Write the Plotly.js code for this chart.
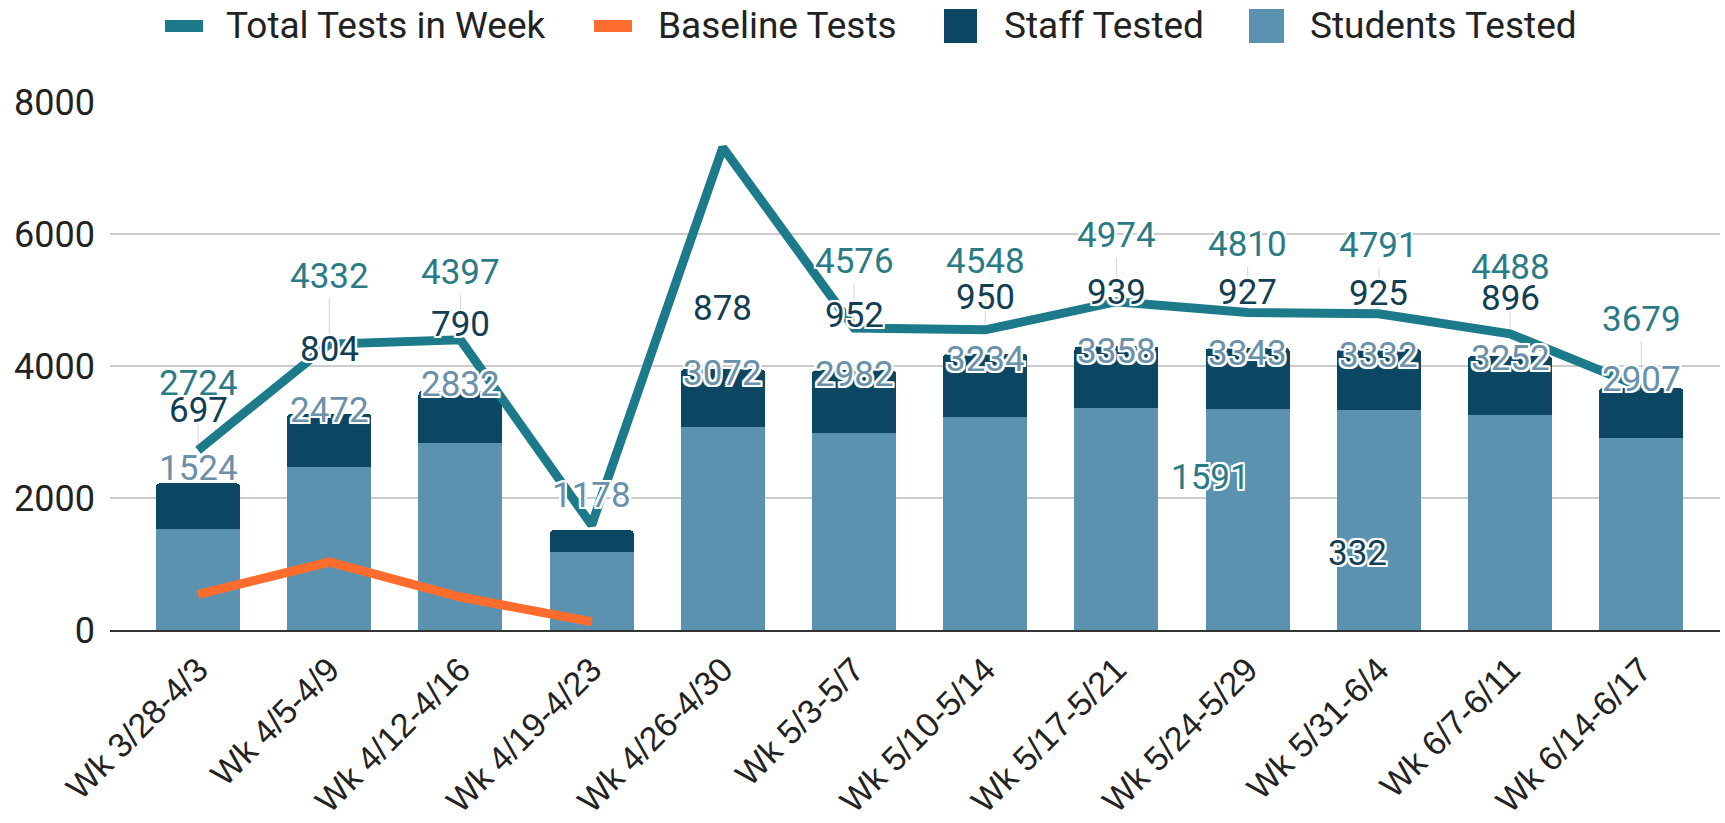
<!DOCTYPE html>
<html>
<head>
<meta charset="utf-8">
<script src="https://cdn.plot.ly/plotly-3.0.1.min.js"></script>
<style>html,body{margin:0;padding:0;background:#fff;}#chart{width:1725px;height:823px;}</style>
</head>
<body>
<div id="chart"></div>
<script>
// ---------- data ----------
const weeks = ['Wk 3/28-4/3','Wk 4/5-4/9','Wk 4/12-4/16','Wk 4/19-4/23','Wk 4/26-4/30','Wk 5/3-5/7','Wk 5/10-5/14','Wk 5/17-5/21','Wk 5/24-5/29','Wk 5/31-6/4','Wk 6/7-6/11','Wk 6/14-6/17'];
const studentsTested = [1524, 2472, 2832, 1178, 3072, 2982, 3234, 3358, 3343, 3332, 3252, 2907];
const staffTested    = [697, 804, 790, 332, 878, 952, 950, 939, 927, 925, 896, 760];
const totalTests     = [2724, 4332, 4397, 1591, 7310, 4576, 4548, 4974, 4810, 4791, 4488, 3679];
const baselineTests  = [540, 1030, 500, 125, null, null, null, null, null, null, null, null];
const seriesNames = ['Total Tests in Week', 'Baseline Tests', 'Staff Tested', 'Students Tested'];
// which data labels are shown (Total for week 5 and Staff for week 12 are hidden in the original)
const showTotalLabel = [true, true, true, true, false, true, true, true, true, true, true, true];
const showStaffLabel = [true, true, true, true, true, true, true, true, true, true, true, false];

// ---------- label placement (pixel offsets from each label's anchor) ----------
const totalLabelDX   = [0, 0, 0, 619, 0, 0, 0, 0, 0, 0, 0, 0];
const totalLabelDY   = [67, 68, 67, 47, 0, 66, 68, 66, 68, 68, 66, 68];
const staffLabelDX   = [0, 0, 0, 766, 0, 0, 0, 0, 0, 0, 0, 0];
const staffLabelDY   = [73, 64, 66, -23, 61, 55, 56, 54, 56, 56, 58, 0];
const studentLabelDY = [15, 3, 6, 35, -4, -4, -6, -5, -5, -6, -2, 8];

// ---------- styles ----------
const C = {
  total: '#1c7a8b', baseline: '#ff6d2e', staff: '#0b4763', students: '#5a92b0',
  totalText: '#2b7b86', staffText: '#123e54', studentText: '#6a91a9'
};
const labelFont = 'Roboto, "Noto Sans", sans-serif';
const halo = '-2px -2px 0 #fff, 2px -2px 0 #fff, -2px 2px 0 #fff, 2px 2px 0 #fff, 0 -2px 0 #fff, 0 2px 0 #fff, -2px 0 0 #fff, 2px 0 0 #fff, 0 0 3px #fff';
const labelSize = 35;

const M = {l: 110, r: 5, t: 102, b: 193};
const W = 1725, H = 823;
const plotW = W - M.l - M.r, plotH = H - M.t - M.b;
const pxX = px => (px - M.l) / plotW;
const pxY = py => (H - M.b - py) / plotH;

const traces = [
  {type: 'bar', name: seriesNames[3], x: weeks, y: studentsTested, marker: {color: C.students}, hoverinfo: 'x+y+name'},
  {type: 'bar', name: seriesNames[2], x: weeks, y: staffTested, marker: {color: C.staff}, hoverinfo: 'x+y+name'},
  {type: 'scatter', mode: 'lines', name: seriesNames[0], x: weeks, y: totalTests, line: {color: C.total, width: 9}, cliponaxis: false},
  {type: 'scatter', mode: 'lines', name: seriesNames[1], x: weeks, y: baselineTests, line: {color: C.baseline, width: 9}, connectgaps: false, cliponaxis: false}
];

const annotations = [];
weeks.forEach((w, i) => {
  if (showTotalLabel[i]) {
    const a = {x: i, y: totalTests[i], xref: 'x', yref: 'y', text: String(totalTests[i]),
      font: {family: labelFont, size: labelSize, color: C.totalText, shadow: halo}};
    if (totalLabelDX[i] === 0) {
      Object.assign(a, {showarrow: true, arrowhead: 0, arrowwidth: 1, arrowcolor: '#d6d6d6', ax: 0, ay: -totalLabelDY[i], standoff: 6});
    } else {
      Object.assign(a, {showarrow: false, xshift: totalLabelDX[i], yshift: totalLabelDY[i]});
    }
    annotations.push(a);
  }
});
weeks.forEach((w, i) => {
  annotations.push({x: i, y: studentsTested[i] + staffTested[i], xref: 'x', yref: 'y', text: String(studentsTested[i]),
    showarrow: false, yshift: studentLabelDY[i],
    font: {family: labelFont, size: labelSize, color: C.studentText, shadow: halo}});
});
weeks.forEach((w, i) => {
  if (showStaffLabel[i]) {
    annotations.push({x: i, y: studentsTested[i] + staffTested[i], xref: 'x', yref: 'y', text: String(staffTested[i]),
      showarrow: false, xshift: staffLabelDX[i], yshift: staffLabelDY[i],
      font: {family: labelFont, size: labelSize, color: C.staffText, shadow: halo}});
  }
});

// ---------- legend (drawn to match the original's large keys) ----------
const legendItems = [
  {name: seriesNames[0], color: C.total, kind: 'line', x0: 165, x1: 203, tx: 224},
  {name: seriesNames[1], color: C.baseline, kind: 'line', x0: 594, x1: 632, tx: 656},
  {name: seriesNames[2], color: C.staff, kind: 'box', x0: 944, x1: 977, tx: 1002},
  {name: seriesNames[3], color: C.students, kind: 'box', x0: 1249, x1: 1284, tx: 1308}
];
const legendCY = 26;
const shapes = [];
legendItems.forEach(it => {
  const h = it.kind === 'line' ? 12 : 34;
  shapes.push({type: 'rect', xref: 'paper', yref: 'paper', x0: pxX(it.x0), x1: pxX(it.x1),
    y0: pxY(legendCY + h / 2), y1: pxY(legendCY - h / 2), fillcolor: it.color, line: {width: 0}, layer: 'above'});
  annotations.push({xref: 'paper', yref: 'paper', x: pxX(it.tx), y: pxY(legendCY), xanchor: 'left', yanchor: 'middle',
    showarrow: false, text: it.name, font: {family: labelFont, size: 37, color: '#222'}});
});

const layout = {
  width: W, height: H, margin: M,
  paper_bgcolor: '#fff', plot_bgcolor: '#fff',
  showlegend: false,
  barmode: 'stack', bargap: 0.36, barcornerradius: 4,
  xaxis: {type: 'category', range: [-0.671, 11.6], tickangle: -45, ticks: '', showgrid: false,
    showline: true, linecolor: '#333', linewidth: 2, zeroline: false, ticklabelstandoff: 4,
    tickfont: {family: '"Liberation Sans", Arial, sans-serif', size: 34, color: '#222'}},
  yaxis: {range: [0, 8000], dtick: 2000, tick0: 0, ticks: '', showline: false, zeroline: false,
    gridcolor: '#cccccc', gridwidth: 2, ticklabelstandoff: 14,
    tickfont: {family: labelFont, size: 36, color: '#222'}},
  annotations: annotations,
  shapes: shapes
};

Plotly.newPlot('chart', traces, layout, {displayModeBar: false, staticPlot: true});
</script>
</body>
</html>
